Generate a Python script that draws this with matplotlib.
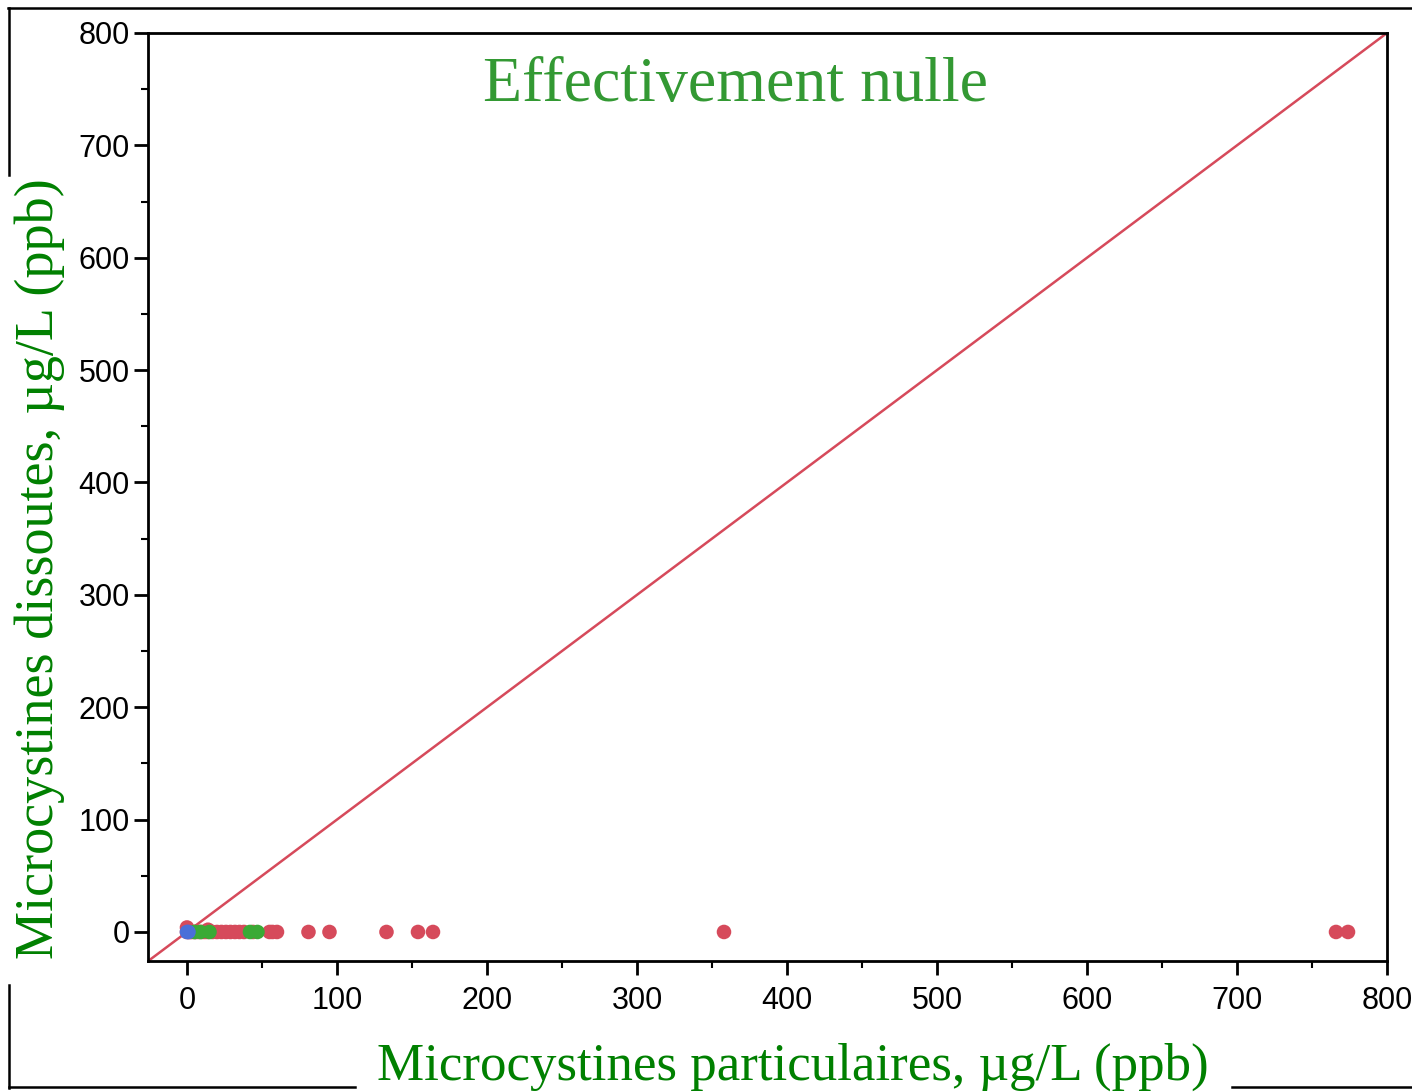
import numpy as np
import matplotlib.pyplot as plt
from matplotlib.lines import Line2D

# particulate vs dissolved microcystins (ug/L)
red_x = [0, 1, 2, 3, 5, 6, 8, 10, 12, 14, 17, 20, 23, 26, 29, 32, 35, 38, 44,
         55, 57, 60, 81, 95, 133, 154, 164, 358, 766, 774, 0, 14]
red_y = [0] * 30 + [4, 2]
green_x = [5, 9, 15, 42, 47]
green_y = [0, 0, 0, 0, 0]
blue_x = [0, 1]
blue_y = [0, 0]

fig = plt.figure(figsize=(14.12, 10.92), dpi=100)
ax = fig.add_axes([0.1048, 0.1200, 0.8775, 0.8498])

ax.plot([-40, 800], [-40, 800], color='#d64a5b', lw=1.8, zorder=1)
ax.scatter(red_x, red_y, s=110, color='#d64a5b', edgecolors='none', zorder=3)
ax.scatter(green_x, green_y, s=110, color='#3aaa35', edgecolors='none', zorder=4)
ax.scatter(blue_x, blue_y, s=110, color='#4a6fd8', edgecolors='none', zorder=5)

ax.set_xlim(-26, 800)
ax.set_ylim(-25.8, 800)
ax.set_xticks(np.arange(0, 801, 100))
ax.set_yticks(np.arange(0, 801, 100))
ax.set_xticks(np.arange(50, 800, 100), minor=True)
ax.set_yticks(np.arange(50, 800, 100), minor=True)
ax.tick_params(which='major', length=10, width=2, labelsize=22, pad=3)
ax.tick_params(axis='x', which='major', pad=8)
ax.tick_params(which='minor', length=5, width=1.5)
for lab in ax.get_xticklabels() + ax.get_yticklabels():
    lab.set_family('Liberation Sans')
for sp in ax.spines.values():
    sp.set_linewidth(2)

ax.text(0.474, 0.943, 'Effectivement nulle', transform=ax.transAxes, ha='center', va='center',
        family='Liberation Serif', fontsize=46, color='#339933')

fig.text(0.5615, 0.023, 'Microcystines particulaires, µg/L (ppb)', ha='center', va='center',
         family='Liberation Serif', fontsize=38.2, color='#008000')
fig.text(0.028, 0.479, 'Microcystines dissoutes, µg/L (ppb)', ha='center', va='center',
         rotation=90, family='Liberation Serif', fontsize=39, color='#008000')

# outer frame pieces
W, H = 1412.0, 1092.0
segs = [((8, 1412), (8, 8)), ((9, 9), (8, 175)), ((9, 9), (985, 1088)),
        ((9, 355), (1087, 1087)), ((1232, 1412), (1087, 1087))]
for xs, ys in segs:
    fig.add_artist(Line2D([x / W for x in xs], [1 - y / H for y in ys],
                          color='black', lw=1.8, transform=fig.transFigure))

fig.savefig('out.png', dpi=100)
